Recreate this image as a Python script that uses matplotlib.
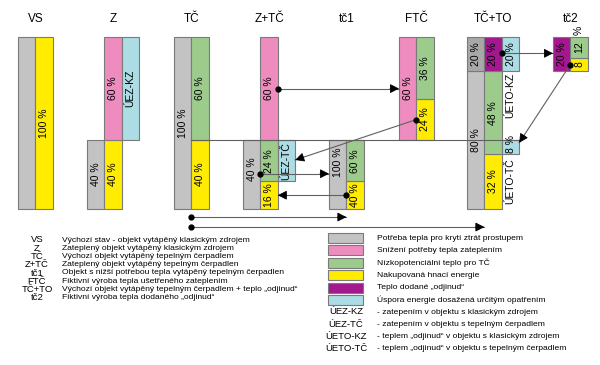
import matplotlib.pyplot as plt
from matplotlib.patches import Rectangle
import numpy as np

plt.rcParams['font.family'] = ['Liberation Sans', 'DejaVu Sans']

colors = {
    'ztraty': '#c3c3c3',
    'ztraty2': '#a8a8a8',
    'zatepleni': '#ee8cbf',
    'nizkopot': '#9dcb8c',
    'hnaci': '#ffec00',
    'odjinud': '#a3178f',
    'uspora': '#acdce4',
}

columns = ['VS', 'Z', 'TČ', 'Z+TČ', 'tč1', 'FTČ', 'TČ+TO', 'tč2']
col_slots = [2, 3, 2, 3, 2, 2, 3, 2]

# cells of each column: (slot, bottom %, share %, kind, label)
vs_cells = [(0, 0, 100, 'ztraty', ''), (1, 0, 100, 'hnaci', '100 %')]
z_cells = [(0, 0, 40, 'ztraty', '40 %'), (1, 0, 40, 'hnaci', '40 %'),
           (1, 40, 60, 'zatepleni', '60 %'), (2, 40, 60, 'uspora', 'ÚEZ-KZ')]
tc_cells = [(0, 0, 100, 'ztraty', '100 %'), (1, 0, 40, 'hnaci', '40 %'),
            (1, 40, 60, 'nizkopot', '60 %')]
ztc_cells = [(0, 0, 40, 'ztraty', '40 %'), (1, 0, 16, 'hnaci', '16 %'),
             (1, 16, 24, 'nizkopot', '24 %'), (1, 40, 60, 'zatepleni', '60 %'),
             (2, 16, 24, 'uspora', 'ÚEZ-TČ')]
tc1_cells = [(0, 0, 40, 'ztraty', '100 %'), (1, 0, 16, 'hnaci', '40 %'),
             (1, 16, 24, 'nizkopot', '60 %')]
ftc_cells = [(0, 40, 60, 'zatepleni', '60 %'), (1, 40, 24, 'hnaci', '24 %'),
             (1, 64, 36, 'nizkopot', '36 %')]
tcto_cells = [(0, 0, 80, 'ztraty', '80 %'), (0, 80, 20, 'ztraty2', '20 %'),
              (1, 0, 32, 'hnaci', '32 %'), (1, 32, 48, 'nizkopot', '48 %'),
              (1, 80, 20, 'odjinud', '20 %'), (2, 80, 20, 'uspora', '20 %'),
              (2, 32, 8, 'uspora', '')]
tc2_cells = [(0, 80, 20, 'odjinud', '20 %'), (1, 80, 8, 'hnaci', '8'),
             (1, 88, 12, 'nizkopot', '12')]
all_cells = [vs_cells, z_cells, tc_cells, ztc_cells,
             tc1_cells, ftc_cells, tcto_cells, tc2_cells]
label_shift = {(4, 0): 7, (3, 0): 3}

# texts sticking out of cells / standing beside them: (column, slot, %, text, va)
notes = [(6, 2, 32.3, '8 %', 'bottom'), (7, 1, 103.8, '%', 'center'),
         (6, 2, 66, 'ÚETO-KZ', 'center'), (6, 2, 16, 'ÚETO-TČ', 'center')]

# flows: ((column, edge, %) start with dot, (column, edge, %) end)
flows = [((3, 2, 70), (5, 0, 70)),
         ((5, 1, 52), (3, 3, 28.5)),
         ((3, 1, 20.5), (4, 0, 20.5)),
         ((4, 1, 8), (3, 2, 8)),
         ((6, 2, 90.5), (7, 0, 90.5)),
         ((7, 1, 84), (6, 3, 38.5)),
         ((2, 1, -4.7), (4, 1, -4.7)),
         ((2, 1, -10.5), (6, 1, -10.5))]
base_line = ((2, 1, 40), (6, 3, 40))

legend_abbr = ['VS', 'Z', 'TČ', 'Z+TČ', 'tč1', 'FTČ', 'TČ+TO', 'tč2']
legend_desc = [
    'Výchozí stav - objekt vytápěný klasickým zdrojem',
    'Zateplený objekt vytápěný klasickým zdrojem',
    'Výchozí objekt vytápěný tepelným čerpadlem',
    'Zateplený objekt vytápěný tepelným čerpadlen',
    'Objekt s nižší potřebou tepla vytápěný tepelným čerpadlen',
    'Fiktivní výroba tepla ušetřeného zateplením',
    'Výchozí objekt vytápěný tepelným čerpadlem + teplo „odjinud“',
    'Fiktivní výroba tepla dodaného „odjinud“',
]
swatch_kinds = ['ztraty', 'zatepleni', 'nizkopot', 'hnaci', 'odjinud', 'uspora']
swatch_text = [
    'Potřeba tepla pro krytí ztrát prostupem',
    'Snížení potřeby tepla zateplením',
    'Nízkopotenciální teplo pro TČ',
    'Nakupovaná hnací energie',
    'Teplo dodané „odjinud“',
    'Úspora energie dosažená určitým opatřením',
]
saving_abbr = ['ÚEZ-KZ', 'ÚEZ-TČ', 'ÚETO-KZ', 'ÚETO-TČ']
saving_text = [
    '- zatepením v objektu s klasickým zdrojem',
    '- zatepením v objektu s tepelným čerpadlem',
    '- teplem „odjinud“ v objektu s klasickým zdrojem',
    '- teplem „odjinud“ v objektu s tepelným čerpadlem',
]

# layout (pixels)
col_left = [18, 87, 174, 243, 329, 399, 467, 553]
SLOT_W = 17.4
PX_PER_PCT = 1.72
EDGE = '#7a7a7a'
LINE = '#606060'

fig = plt.figure(figsize=(6, 3.65), dpi=100)
ax = fig.add_axes([0, 0, 1, 1])
ax.set_xlim(0, 600)
ax.set_ylim(-90.7, 121.5)
ax.axis('off')


def xpos(col, edge):
    return col_left[col] + edge * SLOT_W


for c, cells in enumerate(all_cells):
    for slot, bottom, share, kind, label in cells:
        ax.bar(xpos(c, slot + 0.5), share, width=SLOT_W, bottom=bottom,
               color=colors[kind], edgecolor=EDGE, linewidth=0.8, zorder=2)
        if label:
            ax.text(xpos(c, slot + 0.5), bottom + share / 2 + label_shift.get((c, slot), 0),
                    label, rotation=90, ha='center', va='center', fontsize=7.5, zorder=4)
    ax.text(xpos(c, col_slots[c] / 2), 110.5, columns[c],
            ha='center', va='center', fontsize=8.5)

for c, slot, pct, text, va in notes:
    ax.text(xpos(c, slot + 0.5), pct, text, rotation=90, ha='center',
            va=va, fontsize=7.5, zorder=4)

(c0, e0, p0), (c1, e1, p1) = base_line
ax.plot([xpos(c0, e0), xpos(c1, e1)], [p0, p1], color=LINE, lw=0.8, zorder=3)

for (c0, e0, p0), (c1, e1, p1) in flows:
    x0, x1 = xpos(c0, e0), xpos(c1, e1)
    ax.plot([x0, x1], [p0, p1], color=LINE, lw=0.8, zorder=5)
    # short black piece at the end carries the head
    dx, dy = x1 - x0, (p1 - p0) * PX_PER_PCT
    n = np.hypot(dx, dy)
    xb, yb = x1 - 9 * dx / n, p1 - 9 * dy / n / PX_PER_PCT
    ax.annotate('', xy=(x1, p1), xytext=(xb, yb),
                arrowprops=dict(arrowstyle='-|>,head_length=0.55,head_width=0.28',
                                color='black', lw=0.6, shrinkA=0, shrinkB=0,
                                mutation_scale=10),
                zorder=5)
    ax.plot(x0, p0, 'o', color='black', ms=3.5, zorder=6)

# legend, in pixel coordinates
lg = fig.add_axes([0, 0, 1, 1])
lg.set_xlim(0, 600)
lg.set_ylim(365, 0)
lg.axis('off')

for i, (abbr, desc) in enumerate(zip(legend_abbr, legend_desc)):
    y = 240 + i * 8.25
    lg.text(37, y, abbr, ha='center', va='center', fontsize=6.8)
    lg.text(62, y, desc, ha='left', va='center', fontsize=6.1)

for i, (kind, text) in enumerate(zip(swatch_kinds, swatch_text)):
    y = 238 + i * 12.4
    lg.add_patch(Rectangle((328, y - 5), 35, 10, facecolor=colors[kind],
                           edgecolor=EDGE, linewidth=0.8))
    lg.text(377, y, text, ha='left', va='center', fontsize=6.1)

for i, (abbr, text) in enumerate(zip(saving_abbr, saving_text)):
    y = 312 + i * 12.1
    lg.text(346, y, abbr, ha='center', va='center', fontsize=6.8)
    lg.text(377, y, text, ha='left', va='center', fontsize=6.1)

fig.savefig('out.png', dpi=100)
